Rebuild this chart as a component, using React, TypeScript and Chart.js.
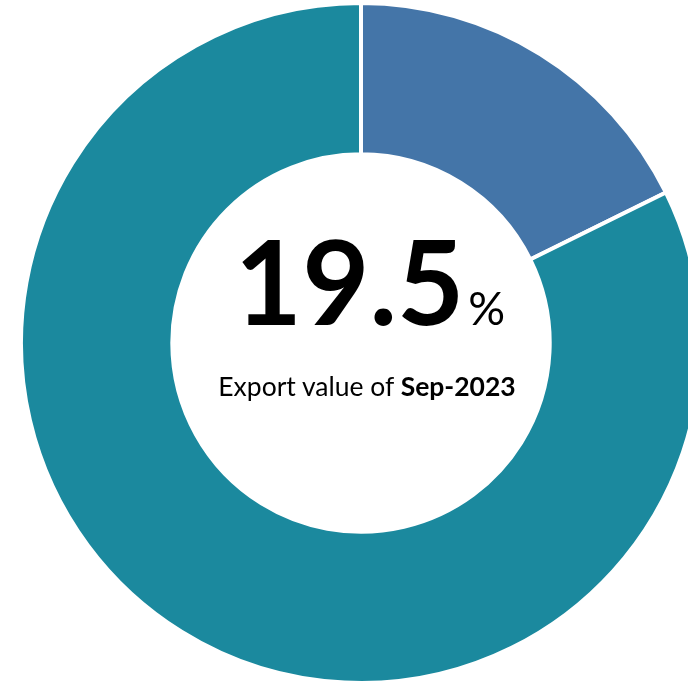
import React, { useEffect, useRef } from "react";
import { Chart, registerables } from "chart.js";

Chart.register(...registerables);

const categories = ["Sep-2023 share", "Other"];
const shareValues = [17.7, 82.3];
const sliceColors = ["#4475A8", "#1B899E"];
const headline = "19.5";
const headlineUnit = "%";
const subtitlePrefix = "Export value of ";
const subtitleBold = "Sep-2023";

export default function App() {
  const canvasRef = useRef<HTMLCanvasElement | null>(null);

  useEffect(() => {
    const canvas = canvasRef.current;
    if (!canvas) return;
    const chart = new Chart(canvas, {
      type: "doughnut",
      data: {
        labels: categories,
        datasets: [
          {
            data: shareValues,
            backgroundColor: sliceColors,
            borderColor: "#ffffff",
            borderWidth: 4,
          },
        ],
      },
      options: {
        responsive: false,
        animation: false,
        cutout: "55.5%",
        layout: { padding: 1 },
        plugins: {
          legend: { display: false },
          tooltip: { enabled: false },
        },
      },
    });
    return () => chart.destroy();
  }, []);

  return (
    <div
      style={{
        position: "fixed",
        left: 0,
        top: 0,
        width: 688,
        height: 681,
        overflow: "hidden",
        background: "#ffffff",
      }}
    >
      <canvas
        ref={canvasRef}
        width={722}
        height={686}
        style={{ position: "absolute", left: 0, top: 0, width: 722, height: 686 }}
      />
      <div
        style={{
          position: "absolute",
          left: 170,
          width: 400,
          top: 223,
          display: "flex",
          justifyContent: "center",
          alignItems: "baseline",
          fontFamily: "Lato, sans-serif",
          color: "#000",
          lineHeight: 1,
        }}
      >
        <span style={{ fontSize: 116, fontWeight: 700 }}>{headline}</span>
        <span style={{ fontSize: 46, fontWeight: 400, marginLeft: 4 }}>{headlineUnit}</span>
      </div>
      <div
        style={{
          position: "absolute",
          left: 167,
          width: 400,
          top: 373,
          textAlign: "center",
          fontFamily: "Lato, sans-serif",
          fontSize: 26.5,
          lineHeight: 1,
          color: "#000",
          whiteSpace: "nowrap",
        }}
      >
        {subtitlePrefix}
        <b>{subtitleBold}</b>
      </div>
    </div>
  );
}
